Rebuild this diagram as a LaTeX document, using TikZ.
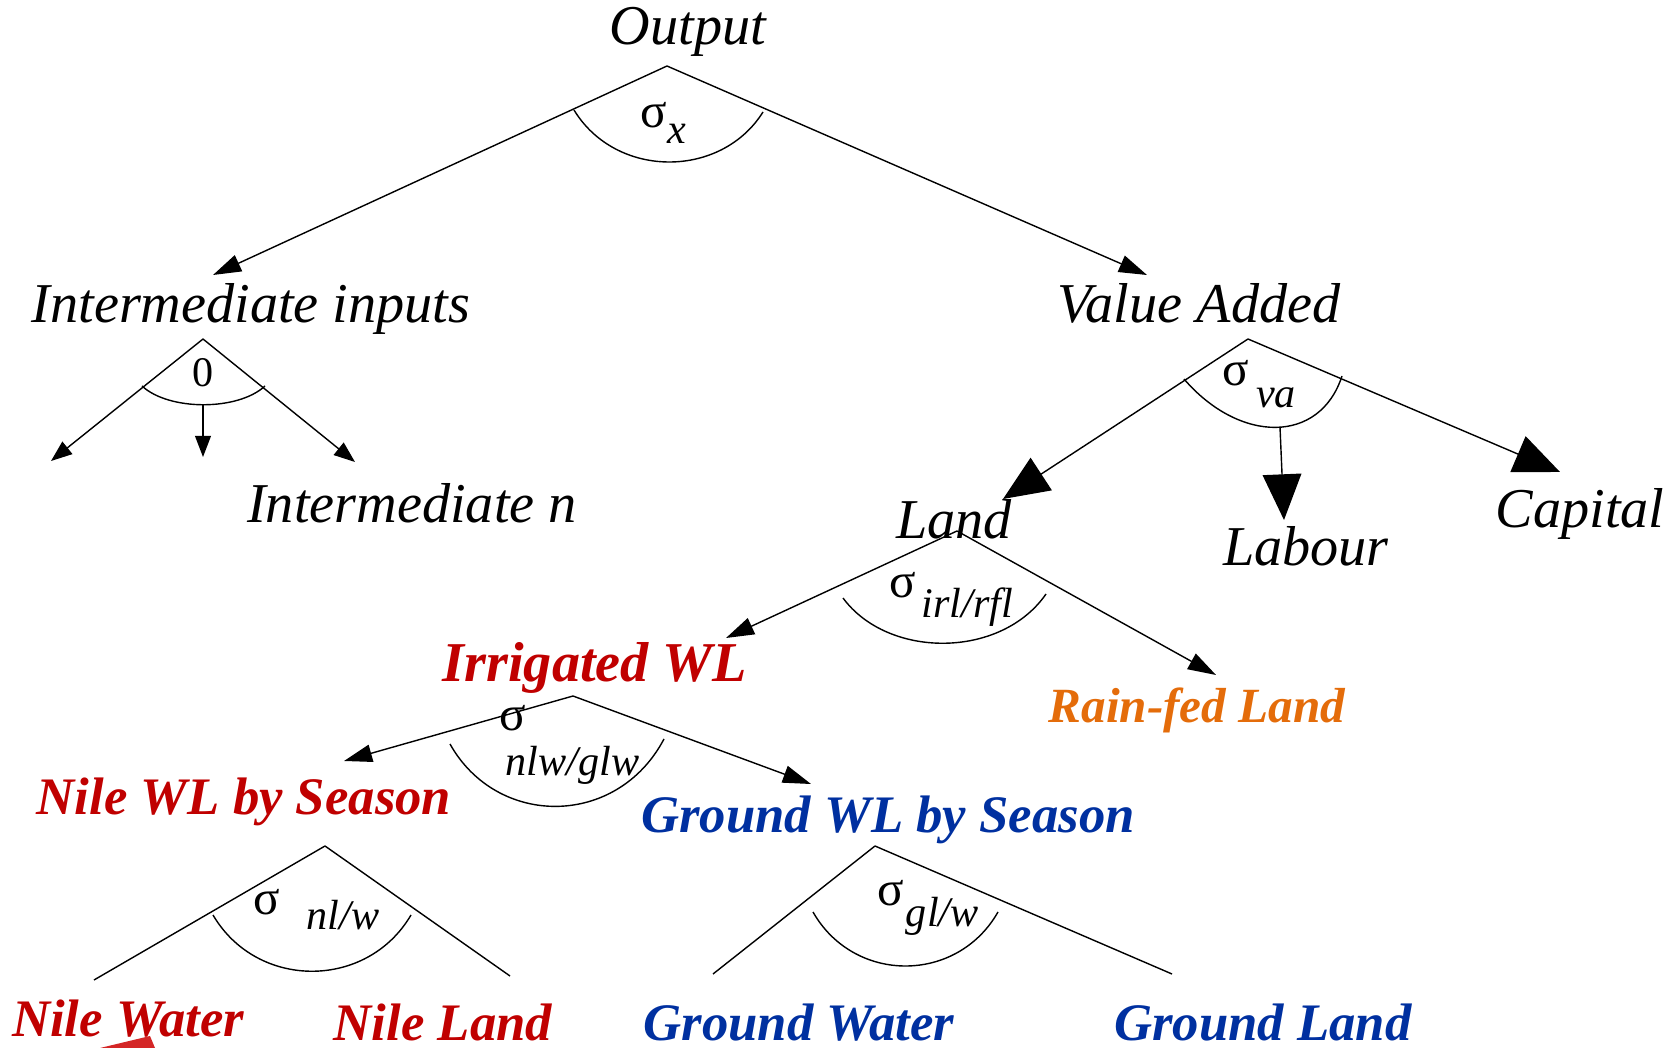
\documentclass[tikz,border=0pt]{standalone}
\usepackage{fontspec}
\setmainfont{Liberation Serif}
\usetikzlibrary{arrows.meta}
\definecolor{wlred}{RGB}{192,0,0}
\definecolor{wlblue}{RGB}{0,48,160}
\definecolor{rforange}{RGB}{228,108,10}
\newcommand{\sbs}[2][5pt]{\raisebox{-#1}{\fontsize{12}{14}\selectfont\itshape #2}}
\tikzstyle{lbl} = [inner sep=0pt, anchor=base, font=\fontsize{16}{18}\selectfont\itshape]
\tikzstyle{wl} = [inner sep=0pt, anchor=base, font=\fontsize{15}{18}\selectfont\bfseries\itshape]
\tikzstyle{sig} = [inner sep=0pt, anchor=base west, font=\fontsize{14}{16}\selectfont]
\tikzstyle{arrow} = [-{Triangle[length=8pt,width=5pt]}]
\tikzstyle{bigarrow} = [-{Triangle[length=13pt,width=11pt]}]

\begin{document}
\begin{tikzpicture}
    \useasboundingbox (0,0) rectangle (16.73,-10.48);

    \node (out) [lbl] at (6.88,-0.45) {Output};
    \node (inter) [lbl] at (2.51,-3.23) {Intermediate inputs};
    \node (valadd) [lbl] at (11.99,-3.23) {Value Added};
    \node (intn) [lbl] at (4.12,-5.23) {Intermediate n};
    \node (land) [lbl] at (9.54,-5.39) {Land};
    \node (labour) [lbl] at (13.06,-5.66) {Labour};
    \node (capital) [lbl] at (15.80,-5.28) {Capital};
    \node (irr) [wl, text=wlred, font=\fontsize{16}{18}\selectfont\bfseries\itshape] at (5.95,-6.81) {Irrigated WL};
    \node (rain) [wl, text=rforange, font=\fontsize{14}{16}\selectfont\bfseries\itshape] at (11.97,-7.23) {Rain-fed Land};
    \node (nileS) [wl, text=wlred] at (2.44,-8.14) {Nile WL by Season};
    \node (groundS) [wl, text=wlblue] at (8.88,-8.32) {Ground WL by Season};
    \node (nileW) [wl, text=wlred] at (1.28,-10.37) {Nile Water};
    \node (nileL) [wl, text=wlred] at (4.43,-10.40) {Nile Land};
    \node (groundW) [wl, text=wlblue] at (7.99,-10.40) {Ground Water};
    \node (groundL) [wl, text=wlblue] at (12.63,-10.40) {Ground Land};

    % elasticities
    \node (sx) [sig] at (6.40,-1.28) {σ\sbs[4.5pt]{x}};
    \node (s0) [lbl, font=\fontsize{12}{14}\selectfont] at (2.03,-3.87) {0};
    \node (sva) [sig] at (12.22,-3.86) {σ\hspace{2pt}\sbs[6pt]{va}};
    \node (sirl) [sig] at (8.89,-5.98) {σ\hspace{1.5pt}\sbs[5.5pt]{irl/rfl}};
    \node (snlw) [sig] at (4.99,-7.31) {σ};
    \node (snlwsub) [sig, font=\fontsize{12}{14}\selectfont\itshape] at (5.05,-7.75) {nlw/glw};
    \node (snl) [sig] at (2.53,-9.15) {σ\hspace{7.5pt}\sbs[4pt]{nl/w}};
    \node (sgl) [sig] at (8.77,-9.05) {σ\hspace{0.5pt}\sbs[6pt]{gl/w}};

    \coordinate (otop) at (6.67,-0.66);
    \coordinate (itop) at (2.03,-3.39);
    \coordinate (vtop) at (12.48,-3.39);
    \coordinate (ltop) at (9.57,-5.31);
    \coordinate (wtop) at (5.73,-6.96);
    \coordinate (ntop) at (3.25,-8.46);
    \coordinate (gtop) at (8.75,-8.46);

    \coordinate (tinter) at (2.13,-2.75);
    \coordinate (tval) at (11.47,-2.75);
    \coordinate (tleft) at (0.51,-4.61);
    \coordinate (tmid0) at (2.03,-4.05);
    \coordinate (tmid) at (2.03,-4.57);
    \coordinate (tright) at (3.55,-4.62);
    \coordinate (tland) at (10.03,-4.99);
    \coordinate (tlab0) at (12.80,-4.27);
    \coordinate (tlab) at (12.84,-5.20);
    \coordinate (tcap) at (15.60,-4.72);
    \coordinate (tirr) at (7.26,-6.38);
    \coordinate (train) at (12.16,-6.75);
    \coordinate (tnile) at (3.44,-7.61);
    \coordinate (tground) at (8.11,-7.84);
    \coordinate (enw) at (0.94,-9.80);
    \coordinate (enl) at (5.10,-9.76);
    \coordinate (egw) at (7.13,-9.74);
    \coordinate (egl) at (11.72,-9.74);

    \draw[arrow] (otop) -- (tinter);
    \draw[arrow] (otop) -- (tval);
    \draw (5.74,-1.10) .. controls (6.16,-1.79) and (7.21,-1.79) .. (7.63,-1.12);

    \draw[arrow, -{Triangle[length=6pt,width=4.5pt]}] (itop) -- (tleft);
    \draw[arrow, -{Triangle[length=6pt,width=4.5pt]}] (tmid0) -- (tmid);
    \draw[arrow, -{Triangle[length=6pt,width=4.5pt]}] (itop) -- (tright);
    \draw (1.42,-3.86) .. controls (1.69,-4.11) and (2.38,-4.11) .. (2.65,-3.86);

    \draw[bigarrow] (vtop) -- (tland);
    \draw[bigarrow] (tlab0) -- (tlab);
    \draw[bigarrow] (vtop) -- (tcap);
    \draw (11.84,-3.79) .. controls (12.40,-4.44) and (13.20,-4.44) .. (13.42,-3.76);

    \draw[arrow] (ltop) -- (tirr);
    \draw[arrow] (ltop) -- (train);
    \draw (8.43,-5.98) .. controls (8.88,-6.59) and (10.01,-6.59) .. (10.46,-5.94);

    \draw[arrow] (wtop) -- (tnile);
    \draw[arrow] (wtop) -- (tground);
    \draw (4.50,-7.44) .. controls (4.97,-8.28) and (6.17,-8.28) .. (6.64,-7.39);

    \draw (ntop) -- (enw);
    \draw (ntop) -- (enl);
    \draw (2.13,-9.15) .. controls (2.57,-9.90) and (3.67,-9.90) .. (4.11,-9.15);

    \draw (gtop) -- (egw);
    \draw (gtop) -- (egl);
    \draw (8.13,-9.12) .. controls (8.54,-9.84) and (9.57,-9.84) .. (9.98,-9.12);

    \fill[red!80!black!85] (1.00,-10.48) -- (1.50,-10.36) -- (1.55,-10.48) -- cycle;
\end{tikzpicture}
\end{document}
